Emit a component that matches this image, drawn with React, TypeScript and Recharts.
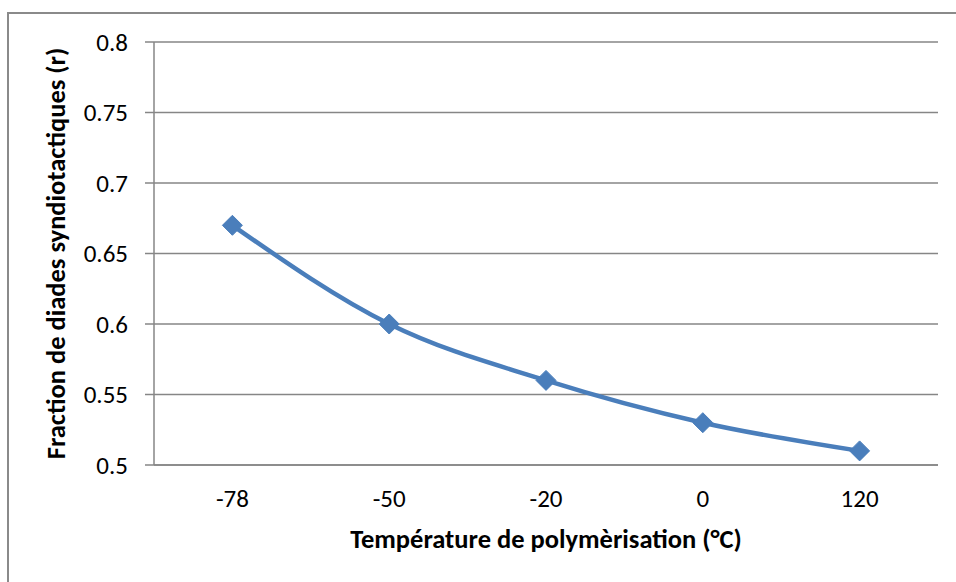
import React from 'react';
import { LineChart, Line, XAxis, YAxis, CartesianGrid } from 'recharts';

const categories = ['-78', '-50', '-20', '0', '120'];
const fractionR = [0.67, 0.6, 0.56, 0.53, 0.51];
const yTicks = [0.5, 0.55, 0.6, 0.65, 0.7, 0.75, 0.8];
const xTitle = 'Température de polymèrisation (°C)';
const yTitle = 'Fraction de diades syndiotactiques (r)';

const data = categories.map((c, i) => ({ t: c, r: fractionR[i] }));

const W = 956;
const H = 582;
const margin = { top: 42, right: 18, bottom: 0, left: 0 };
const yAxisW = 154;
const xAxisH = 117;
const plotW = W - margin.left - margin.right - yAxisW;
const halfBand = plotW / (2 * categories.length);

const FONT = 'Carlito, Lato, "Open Sans", sans-serif';
const GRID = '#868686';
const LINE = '#4A7EBB';

const Diamond = (props: any) => {
  const { cx, cy } = props;
  if (cx == null || cy == null) return null;
  const s = 10;
  return (
    <polygon
      points={`${cx},${cy - s} ${cx + s},${cy} ${cx},${cy + s} ${cx - s},${cy}`}
      fill={LINE}
      stroke={LINE}
      strokeWidth={1}
    />
  );
};

const YTitle = (props: any) => {
  const vb = props.viewBox || {};
  const cx = vb.x + 56;
  const cy = vb.y + vb.height / 2;
  return (
    <text
      x={cx}
      y={cy}
      transform={`rotate(-90, ${cx}, ${cy})`}
      textAnchor="middle"
      dominantBaseline="central"
      fontFamily={FONT}
      fontWeight="bold"
      fontSize={26.5}
      fill="#000"
    >
      {yTitle}
    </text>
  );
};

const XTitle = (props: any) => {
  const vb = props.viewBox || {};
  const cx = vb.x + vb.width / 2;
  const cy = vb.y + 83;
  return (
    <text
      x={cx}
      y={cy}
      textAnchor="middle"
      fontFamily={FONT}
      fontWeight="bold"
      fontSize={26.5}
      fill="#000"
    >
      {xTitle}
    </text>
  );
};

export default function App() {
  return (
    <div
      style={{
        position: 'absolute',
        left: 0,
        top: 0,
        width: W,
        height: H,
        overflow: 'hidden',
        background: '#fff',
      }}
    >
      <div
        style={{
          position: 'absolute',
          left: 7,
          top: 12,
          width: W + 40,
          height: H + 40,
          borderTop: '2px solid #8a8a8a',
          borderLeft: '2px solid #8a8a8a',
        }}
      />
      <div style={{ position: 'absolute', left: 0, top: 0 }}>
        <LineChart width={W} height={H} data={data} margin={margin}>
          <CartesianGrid vertical={false} stroke={GRID} strokeWidth={1.5} />
          <XAxis
            dataKey="t"
            type="category"
            height={xAxisH}
            padding={{ left: halfBand, right: halfBand }}
            axisLine={{ stroke: GRID, strokeWidth: 1.5 }}
            tickLine={false}
            tickSize={0}
            tickMargin={24}
            tick={{ fill: '#000', fontSize: 25, fontFamily: FONT }}
            label={<XTitle />}
          />
          <YAxis
            width={yAxisW}
            domain={[0.5, 0.8]}
            ticks={yTicks}
            interval={0}
            axisLine={{ stroke: GRID, strokeWidth: 1.5 }}
            tickLine={{ stroke: GRID, strokeWidth: 1.5 }}
            tickSize={9}
            tickMargin={17}
            tick={{ fill: '#000', fontSize: 25, fontFamily: FONT }}
            label={<YTitle />}
          />
          <Line
            type="monotone"
            dataKey="r"
            stroke={LINE}
            strokeWidth={4.5}
            dot={<Diamond />}
            activeDot={false}
            isAnimationActive={false}
          />
        </LineChart>
      </div>
    </div>
  );
}
